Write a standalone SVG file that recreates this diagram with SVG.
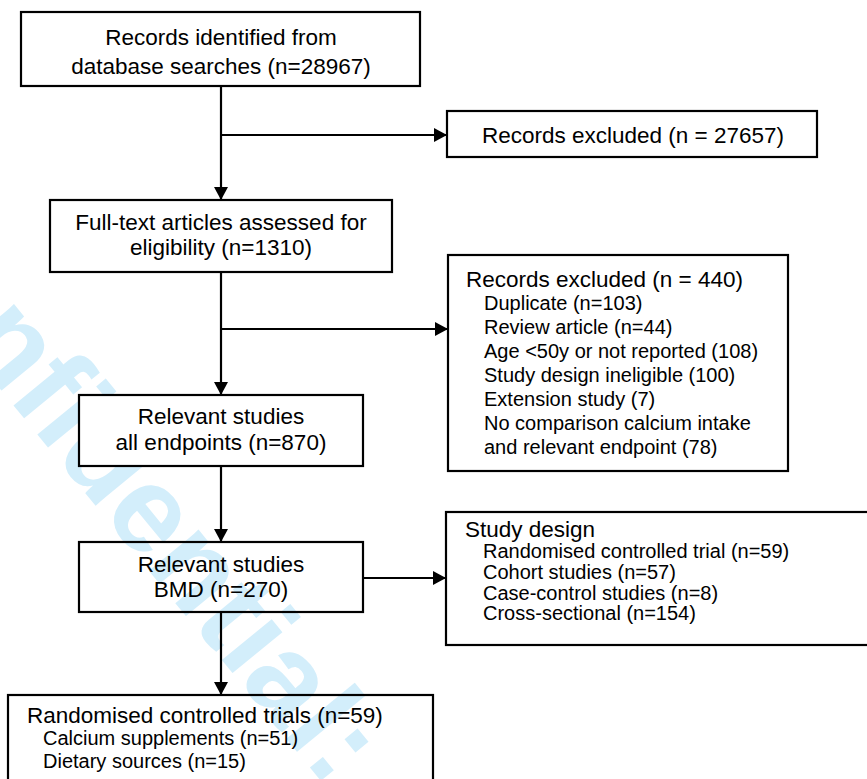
<svg xmlns="http://www.w3.org/2000/svg" width="867" height="779" viewBox="0 0 867 779">
<defs>
<marker id="ah" markerUnits="userSpaceOnUse" markerWidth="14" markerHeight="14" refX="13" refY="7" orient="auto">
<path d="M0,0 L13,7 L0,14 z" fill="#000"/>
</marker>
<style>
.box{fill:#fff;stroke:#000;stroke-width:2.2}
.open{fill:none;stroke:#000;stroke-width:2.2}
.t{font-family:"Liberation Sans",Arial,sans-serif;font-size:22.5px;fill:#000}
.c{text-anchor:middle}
.s{font-family:"Liberation Sans",Arial,sans-serif;font-size:20px;fill:#000}
.wm{font-family:"Liberation Sans",Arial,sans-serif;font-weight:bold;font-size:122px;fill:#D3EEFB}
.ln{fill:none;stroke:#000;stroke-width:2.2}
</style>
</defs>
<rect width="867" height="779" fill="#fff"/>
<text class="wm" transform="translate(-144,213) rotate(50.7)">Confidential:</text>

<g id="n1">
<rect class="box" x="21" y="12" width="399" height="74"/>
<text class="t c" x="221" y="45">Records identified from</text>
<text class="t c" x="221" y="74">database searches (n=28967)</text>
</g>
<g id="n2">
<rect class="box" x="447" y="111" width="370" height="46"/>
<text class="t c" x="633" y="143">Records excluded (n = 27657)</text>
</g>
<g id="n3">
<rect class="box" x="50" y="200" width="342" height="72"/>
<text class="t c" x="221" y="230">Full-text articles assessed for</text>
<text class="t c" x="221" y="255">eligibility (n=1310)</text>
</g>
<g id="n4">
<rect class="box" x="448" y="255" width="340" height="216"/>
<text class="t" x="466" y="287">Records excluded (n = 440)</text>
<text class="s" x="484" y="310">Duplicate (n=103)</text>
<text class="s" x="484" y="334">Review article (n=44)</text>
<text class="s" x="484" y="358">Age &lt;50y or not reported (108)</text>
<text class="s" x="484" y="382">Study design ineligible (100)</text>
<text class="s" x="484" y="406">Extension study (7)</text>
<text class="s" x="484" y="430">No comparison calcium intake</text>
<text class="s" x="484" y="454">and relevant endpoint (78)</text>
</g>
<g id="n5">
<rect class="box" x="79" y="395" width="284" height="71"/>
<text class="t c" x="221" y="424">Relevant studies</text>
<text class="t c" x="221" y="450">all endpoints (n=870)</text>
</g>
<g id="n6">
<rect class="open" x="79" y="542" width="284" height="70"/>
<text class="t c" x="221" y="572">Relevant studies</text>
<text class="t c" x="221" y="597">BMD (n=270)</text>
</g>
<g id="n7">
<rect class="box" x="446" y="512" width="430" height="133"/>
<text class="t" x="465" y="537">Study design</text>
<text class="s" x="483" y="558">Randomised controlled trial (n=59)</text>
<text class="s" x="483" y="579">Cohort studies (n=57)</text>
<text class="s" x="483" y="600">Case-control studies (n=8)</text>
<text class="s" x="483" y="620">Cross-sectional (n=154)</text>
</g>
<g id="n8">
<rect class="open" x="8" y="695" width="425" height="100"/>
<text class="t" x="27" y="723">Randomised controlled trials (n=59)</text>
<text class="s" x="43" y="745">Calcium supplements (n=51)</text>
<text class="s" x="43" y="768">Dietary sources (n=15)</text>
</g>
<g id="connectors">
<line class="ln" x1="221" y1="86" x2="221" y2="200" marker-end="url(#ah)"/>
<line class="ln" x1="221" y1="135" x2="447" y2="135" marker-end="url(#ah)"/>
<line class="ln" x1="221" y1="272" x2="221" y2="395" marker-end="url(#ah)"/>
<line class="ln" x1="221" y1="329" x2="448" y2="329" marker-end="url(#ah)"/>
<line class="ln" x1="221" y1="466" x2="221" y2="542" marker-end="url(#ah)"/>
<line class="ln" x1="363" y1="578" x2="446" y2="578" marker-end="url(#ah)"/>
<line class="ln" x1="221" y1="612" x2="221" y2="695" marker-end="url(#ah)"/>
</g>
</svg>
